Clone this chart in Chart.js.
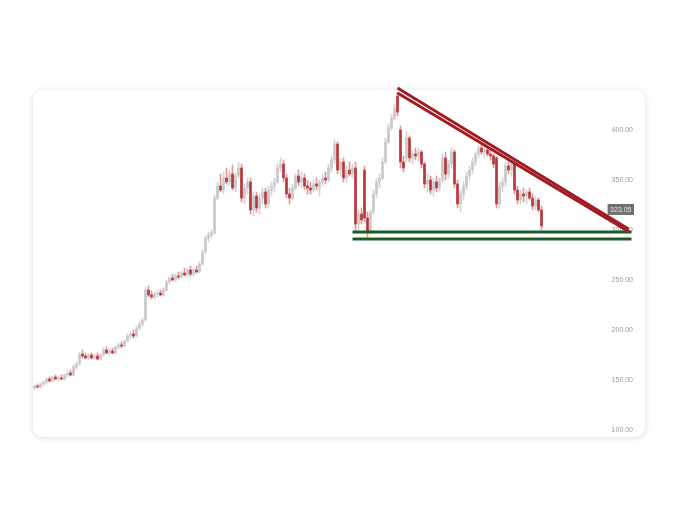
<!DOCTYPE html>
<html><head><meta charset="utf-8">
<script src="https://cdn.jsdelivr.net/npm/chart.js@4"></script>
<style>
html,body{margin:0;padding:0;background:#fff;}
#wrap{position:relative;width:680px;height:522px;overflow:hidden;background:#fff;}
#card{position:absolute;left:33px;top:90px;width:612px;height:347px;background:#fff;border-radius:10px;box-shadow:0 1px 6px rgba(0,0,0,0.14);}
canvas{position:absolute;left:0;top:0;}
</style></head><body>
<div id="wrap"><div id="card"></div><canvas id="c" width="680" height="522"></canvas></div>
<script>
// Candle values (open, high, low, close), one entry per session
const openP  = [142,144,143,146,148,151,149,153,151,152, 151,155,157,155,163,166,176,174,172,175, 172,174,171,175,180,177,179,177,183,185, 184,189,194,196,194,202,206,210,240,235, 233,236,237,235,240,248,252,250,254,253, 257,255,260,256,260,258,266,278,292,295, 297,332,344,340,352,348,356,342,354,362, 332,342,348,320,334,322,332,338,326,340, 344,348,362,366,352,336,332,342,354,348, 352,344,342,340,346,342,348,352,350,362, 370,386,360,368,352,360,356,362,306,316, 360,312,298,318,336,348,352,368,388,402, 412,434,400,368,372,392,372,376,374,378, 366,346,350,340,348,342,350,372,356,366, 378,346,326,336,344,354,360,368,376,382, 378,380,376,374,372,326,344,348,364,360, 366,340,330,336,334,338,332,324,330,320];
const highP  = [145,146,147,149,152,153,154,155,154,155, 156,159,160,165,168,178,180,177,176,177, 176,177,176,182,183,181,182,184,187,188, 190,196,198,200,204,208,212,243,244,239, 238,240,240,242,250,254,256,256,258,259, 262,262,264,262,264,268,280,294,298,300, 335,348,356,358,362,360,365,357,368,366, 346,352,352,338,338,336,342,342,344,348, 352,366,372,370,356,342,346,356,360,358, 356,350,348,350,352,350,356,358,366,374, 390,388,372,372,364,368,366,368,320,322, 364,318,320,340,352,356,372,392,406,416, 426,438,404,374,398,394,380,382,382,380, 368,356,354,352,354,352,376,378,370,382, 380,350,340,348,358,364,372,378,384,386, 384,382,382,376,374,348,352,368,370,368, 368,344,340,342,340,342,336,334,332,324];
const lowP   = [140,142,142,144,146,148,148,150,149,150, 150,153,154,154,161,165,172,171,170,171, 170,170,170,174,176,175,176,176,181,182, 183,188,191,192,193,200,204,209,233,231, 231,233,234,234,239,246,249,248,251,252, 254,253,254,254,257,257,265,277,288,292, 296,330,338,336,346,344,340,338,352,328, 326,336,316,314,318,316,326,322,322,334, 338,346,358,348,332,326,330,340,344,342, 340,336,336,338,340,334,344,346,348,358, 366,356,354,348,348,354,352,300,300,306, 308,293,296,316,332,342,350,366,386,400, 410,414,362,358,368,368,366,370,368,362, 342,338,336,334,338,338,348,350,352,362, 342,322,318,330,340,350,356,364,372,376, 372,374,370,362,322,322,338,344,356,354, 336,326,326,328,326,330,320,320,318,300];
const closeP = [144,143,146,148,151,149,153,151,152,151, 155,157,155,163,166,176,174,172,175,172, 174,171,175,180,177,179,177,183,185,184, 189,194,196,194,202,206,210,240,235,233, 236,237,235,240,248,252,250,254,253,257, 255,260,256,260,258,266,278,292,295,297, 332,344,340,352,348,356,342,354,362,332, 342,348,320,334,322,332,338,326,340,344, 348,362,366,352,336,332,342,354,348,352, 344,342,340,346,344,348,352,350,362,370, 386,360,368,352,360,356,362,306,316,310, 312,298,318,336,348,352,368,388,402,412, 422,418,368,362,392,372,376,374,378,366, 346,350,340,348,342,350,372,356,366,378, 346,326,336,344,354,360,368,376,382,378, 380,376,374,366,326,344,348,364,360,366, 340,330,336,334,338,332,324,330,320,304];

// Drawn trend lines: [session index, price]
const resistanceTop    = [[121, 442], [198, 301]];
const resistanceBottom = [[121, 437], [198, 298.5]];
const supportTop       = [[106, 298], [199, 298]];
const supportBottom    = [[106, 291], [199, 291]];

// Axis ticks and last price tag
const yTickValues = [100, 150, 200, 250, 300, 350, 400];
const lastPrice = 323.05;

const UP_BODY = '#c9c9c9', UP_WICK = '#d4d4d4';
const DN_BODY = '#b8373a', DN_WICK = '#dc9a9b';

const sessions = openP.map((_, i) => i);
const isUp = i => closeP[i] >= openP[i];
const toXY = arr => arr.map(p => ({x: p[0], y: p[1]}));

const priceTag = {
  id: 'priceTag',
  afterDatasetsDraw(chart) {
    const {ctx, scales: {y}, chartArea} = chart;
    const py = y.getPixelForValue(lastPrice) + 2.5;
    const t = lastPrice.toFixed(2);
    ctx.save();
    ctx.font = '7px "Liberation Sans"';
    const w = ctx.measureText(t).width + 5;
    ctx.fillStyle = '#707070';
    ctx.fillRect(chartArea.right - w + 1, py - 5.5, w, 11);
    ctx.fillStyle = '#e6e6e6';
    ctx.textAlign = 'right';
    ctx.textBaseline = 'middle';
    ctx.fillText(t, chartArea.right - 1.5, py + 0.5);
    ctx.restore();
  }
};

const lineDs = (pts, color, width, order) => ({
  type: 'line', data: toXY(pts), borderColor: color, borderWidth: width,
  pointRadius: 0, tension: 0, fill: false, order: order, clip: false
});

new Chart(document.getElementById('c'), {
  type: 'bar',
  data: {
    datasets: [
      {
        label: 'wick', grouped: false, order: 5, barThickness: 1,
        data: sessions.map(i => ({x: i, y: [lowP[i], highP[i]]})),
        backgroundColor: c => isUp(c.dataIndex) ? UP_WICK : DN_WICK
      },
      {
        label: 'body', grouped: false, order: 4, barThickness: 2,
        data: sessions.map(i => ({x: i, y: [openP[i], closeP[i]]})),
        backgroundColor: c => isUp(c.dataIndex) ? UP_BODY : DN_BODY
      },
      lineDs(resistanceTop, '#a31b1f', 2.8, 1),
      lineDs(resistanceBottom, '#a31b1f', 2.8, 1),
      lineDs(supportTop, '#1f5b24', 3, 1),
      lineDs(supportBottom, '#1f5b24', 3, 1)
    ]
  },
  options: {
    responsive: false, devicePixelRatio: 1, animation: false,
    layout: {padding: {left: 33, right: 47, top: 85, bottom: 87}},
    plugins: {legend: {display: false}, tooltip: {enabled: false}},
    scales: {
      x: {type: 'linear', display: false, offset: false, min: -0.5, max: 199.5},
      y: {
        position: 'right', min: 95, max: 445,
        grid: {display: false}, border: {display: false},
        afterFit(s) { s.width = 0; },
        afterBuildTicks(s) { s.ticks = yTickValues.map(v => ({value: v})); },
        ticks: {mirror: true, padding: 0, color: '#9a9a9a',
          font: {family: 'Liberation Sans', size: 7},
          callback: v => Number(v).toFixed(2)}
      }
    }
  },
  plugins: [priceTag]
});
</script>
</body></html>
